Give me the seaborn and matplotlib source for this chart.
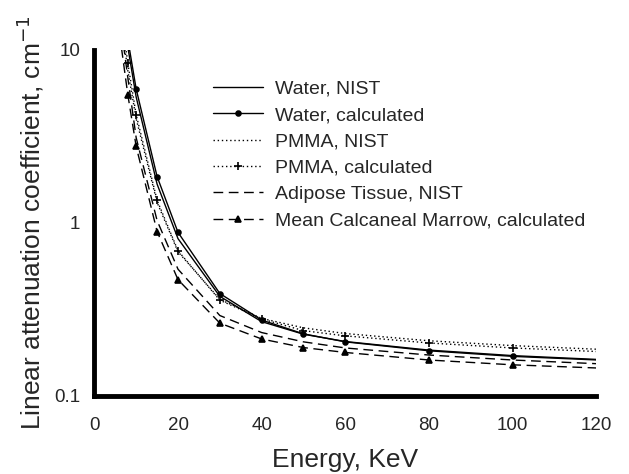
import numpy as np
import pandas as pd
import matplotlib
matplotlib.use("Agg")
import matplotlib.pyplot as plt
import seaborn as sns
from matplotlib.ticker import FixedLocator, FixedFormatter, NullLocator

# ---- data ----
energy_nist = [6, 8, 10, 15, 20, 30, 40, 50, 60, 80, 100, 150]
water_nist = [24.05, 10.37, 5.329, 1.673, 0.8096, 0.3756, 0.2683, 0.2269, 0.2059, 0.1837, 0.1707, 0.1505]
pmma_nist = [17.4, 7.57, 3.99, 1.31, 0.680, 0.361, 0.280, 0.247, 0.229, 0.208, 0.195, 0.173]
adipose_nist = [16.0, 6.9, 3.10, 1.03, 0.539, 0.291, 0.232, 0.205, 0.189, 0.172, 0.161, 0.1425]

energy_calc = [6, 8, 10, 15, 20, 30, 40, 50, 60, 80, 100, 150]
water_calc = [26.0, 11.5, 5.93, 1.85, 0.88, 0.39, 0.274, 0.228, 0.205, 0.182, 0.169, 0.150]
pmma_calc = [19.0, 8.38, 4.21, 1.35, 0.689, 0.357, 0.278, 0.238, 0.222, 0.202, 0.189, 0.168]
marrow_calc = [12.5, 5.5, 2.76, 0.89, 0.469, 0.263, 0.213, 0.190, 0.178, 0.161, 0.151, 0.136]

x_ticks = [0, 20, 40, 60, 80, 100, 120]
y_ticks = [0.1, 1, 10]
y_tick_labels = ["0.1", "1", "10"]

series = [
    ("Water, NIST", energy_nist, water_nist, "-", None, 0),
    ("Water, calculated", energy_calc, water_calc, "-", "o", 3.5),
    ("PMMA, NIST", energy_nist, pmma_nist, (0, (1, 2)), None, 0),
    ("PMMA, calculated", energy_calc, pmma_calc, (0, (1, 2)), "+", 6),
    ("Adipose Tissue, NIST", energy_nist, adipose_nist, (0, (7, 4)), None, 0),
    ("Mean Calcaneal Marrow, calculated", energy_calc, marrow_calc, (0, (7, 4)), "^", 5),
]

sns.set_style("white")
plt.rcParams["font.family"] = ["Liberation Sans", "DejaVu Sans"]

fig = plt.figure(figsize=(6.29, 4.74), dpi=100)
ax = fig.add_axes([0.150, 0.165, 0.798, 0.730])

for label, xs, ys, ls, mk, ms in series:
    df = pd.DataFrame({"Energy": xs, "mu": ys})
    kw = dict(color="black", linewidth=1.0, linestyle=ls, label=label)
    if mk is not None:
        kw.update(marker=mk, markersize=ms, markeredgecolor="black",
                  markerfacecolor="black", markeredgewidth=1.2)
    sns.lineplot(data=df, x="Energy", y="mu", ax=ax, sort=False, **kw)

ax.set_yscale("log")
ax.set_xlim(0, 120)
ax.set_ylim(0.1, 10)
ax.xaxis.set_major_locator(FixedLocator(x_ticks))
ax.yaxis.set_major_locator(FixedLocator(y_ticks))
ax.yaxis.set_major_formatter(FixedFormatter(y_tick_labels))
ax.yaxis.set_minor_locator(NullLocator())
ax.tick_params(axis="both", which="major", labelsize=13.5, length=3, width=1,
               direction="out", color="black")
ax.tick_params(axis="x", pad=12)
ax.tick_params(axis="y", pad=7)

for s in ["top", "right"]:
    ax.spines[s].set_visible(False)
for s in ["left", "bottom"]:
    ax.spines[s].set_linewidth(3.5)
    ax.spines[s].set_color("black")

ax.set_xlabel("Energy, KeV", fontsize=19, labelpad=10)
ax.set_ylabel("Linear attenuation coefficient, cm$^{-1}$", fontsize=19, labelpad=6)

leg = ax.legend(loc="upper left", bbox_to_anchor=(0.22, 0.935), frameon=False,
                fontsize=14, handlelength=2.6, handletextpad=0.6,
                labelspacing=0.45, borderaxespad=0)

fig.savefig("out.png", dpi=100)
